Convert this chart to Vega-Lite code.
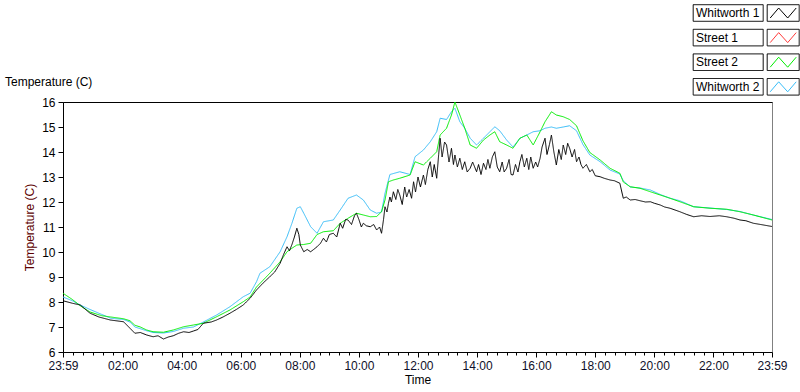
{
 "$schema": "https://vega.github.io/schema/vega-lite/v6.json",
 "width": 709,
 "height": 250,
 "autosize": "none",
 "padding": {"left": 63, "top": 102, "right": 28, "bottom": 40},
 "background": "white",
 "config": {"view": {"stroke": "#808080", "strokeWidth": 1}, "font": "Liberation Sans"},
 "title": {"text": "Temperature (C)", "anchor": "start", "frame": "group", "dx": -58, "dy": 86, "offset": 0, "fontSize": 12, "fontWeight": "normal", "color": "#000000", "font": "Liberation Sans"},
 "datasets": {
  "w1": [
{"t":-1,"v":8.05},{"t":18,"v":7.95},{"t":34,"v":7.88},{"t":54,"v":7.55},{"t":72,"v":7.4},{"t":95,"v":7.28},{"t":122,"v":7.21},{"t":135,"v":6.95},{"t":145,"v":6.75},{"t":156,"v":6.78},{"t":169,"v":6.68},{"t":182,"v":6.61},{"t":192,"v":6.65},{"t":203,"v":6.52},{"t":213,"v":6.6},{"t":223,"v":6.65},{"t":234,"v":6.75},{"t":244,"v":6.81},{"t":255,"v":6.78},{"t":264,"v":6.84},{"t":273,"v":6.9},{"t":284,"v":7.15},{"t":300,"v":7.2},{"t":311,"v":7.28},{"t":324,"v":7.4},{"t":338,"v":7.55},{"t":351,"v":7.7},{"t":365,"v":7.88},{"t":379,"v":8.15},{"t":392,"v":8.48},{"t":405,"v":8.75},{"t":419,"v":9.01},{"t":429,"v":9.2},{"t":440,"v":9.55},{"t":447,"v":9.9},{"t":454,"v":10.21},{"t":459,"v":10.05},{"t":464,"v":10.3},{"t":469,"v":10.6},{"t":474,"v":10.95},{"t":478,"v":10.7},{"t":481,"v":10.28},{"t":488,"v":10.01},{"t":495,"v":10.1},{"t":502,"v":10.01},{"t":508,"v":10.1},{"t":515,"v":10.21},{"t":522,"v":10.35},{"t":528,"v":10.55},{"t":534,"v":10.4},{"t":540,"v":10.7},{"t":548,"v":10.75},{"t":555,"v":10.6},{"t":562,"v":11.15},{"t":567,"v":10.95},{"t":573,"v":11.3},{"t":578,"v":11.28},{"t":585,"v":11.1},{"t":591,"v":11.45},{"t":595,"v":11.55},{"t":600,"v":11.3},{"t":605,"v":11.0},{"t":609,"v":11.15},{"t":615,"v":11.05},{"t":623,"v":11.01},{"t":630,"v":11.1},{"t":636,"v":10.88},{"t":642,"v":11.0},{"t":646,"v":10.75},{"t":650,"v":11.3},{"t":653,"v":11.81},{"t":657,"v":11.6},{"t":660,"v":11.95},{"t":663,"v":12.2},{"t":666,"v":12.0},{"t":670,"v":12.41},{"t":675,"v":12.1},{"t":679,"v":12.5},{"t":683,"v":12.28},{"t":688,"v":11.9},{"t":693,"v":12.6},{"t":697,"v":12.2},{"t":702,"v":12.5},{"t":707,"v":12.15},{"t":711,"v":12.81},{"t":715,"v":12.4},{"t":720,"v":13.0},{"t":725,"v":12.6},{"t":731,"v":13.08},{"t":735,"v":12.7},{"t":740,"v":13.3},{"t":745,"v":13.61},{"t":749,"v":13.0},{"t":753,"v":13.5},{"t":758,"v":12.95},{"t":762,"v":13.9},{"t":765,"v":14.55},{"t":769,"v":13.8},{"t":774,"v":14.4},{"t":778,"v":14.28},{"t":783,"v":13.6},{"t":788,"v":14.15},{"t":792,"v":13.5},{"t":795,"v":13.88},{"t":800,"v":13.4},{"t":805,"v":13.75},{"t":810,"v":13.3},{"t":815,"v":13.61},{"t":820,"v":13.2},{"t":826,"v":13.35},{"t":831,"v":13.6},{"t":839,"v":13.21},{"t":843,"v":13.5},{"t":848,"v":13.1},{"t":853,"v":13.55},{"t":858,"v":13.3},{"t":862,"v":13.7},{"t":866,"v":13.35},{"t":871,"v":13.8},{"t":876,"v":14.01},{"t":881,"v":13.4},{"t":886,"v":13.21},{"t":891,"v":13.6},{"t":895,"v":13.2},{"t":900,"v":13.35},{"t":905,"v":13.7},{"t":909,"v":13.1},{"t":913,"v":13.08},{"t":918,"v":13.5},{"t":923,"v":13.2},{"t":927,"v":13.61},{"t":931,"v":13.9},{"t":936,"v":13.4},{"t":941,"v":13.75},{"t":945,"v":13.3},{"t":949,"v":13.8},{"t":954,"v":13.35},{"t":959,"v":13.6},{"t":963,"v":13.4},{"t":968,"v":13.75},{"t":972,"v":14.2},{"t":978,"v":14.55},{"t":982,"v":13.9},{"t":987,"v":14.3},{"t":991,"v":14.68},{"t":996,"v":14.0},{"t":1001,"v":13.48},{"t":1006,"v":14.1},{"t":1011,"v":13.7},{"t":1015,"v":14.28},{"t":1020,"v":13.9},{"t":1024,"v":14.35},{"t":1028,"v":14.15},{"t":1033,"v":13.8},{"t":1038,"v":14.1},{"t":1042,"v":13.61},{"t":1047,"v":13.8},{"t":1051,"v":13.5},{"t":1055,"v":13.35},{"t":1062,"v":13.5},{"t":1069,"v":13.21},{"t":1074,"v":13.3},{"t":1080,"v":13.05},{"t":1090,"v":13.01},{"t":1098,"v":12.95},{"t":1110,"v":12.88},{"t":1119,"v":12.85},{"t":1130,"v":12.75},{"t":1134,"v":12.4},{"t":1137,"v":12.15},{"t":1143,"v":12.2},{"t":1151,"v":12.08},{"t":1161,"v":12.1},{"t":1171,"v":12.05},{"t":1182,"v":12.0},{"t":1192,"v":12.01},{"t":1200,"v":11.95},{"t":1212,"v":11.88},{"t":1221,"v":11.8},{"t":1232,"v":11.75},{"t":1242,"v":11.68},{"t":1252,"v":11.61},{"t":1266,"v":11.5},{"t":1280,"v":11.41},{"t":1296,"v":11.45},{"t":1313,"v":11.42},{"t":1332,"v":11.45},{"t":1347,"v":11.41},{"t":1362,"v":11.35},{"t":1374,"v":11.28},{"t":1386,"v":11.25},{"t":1401,"v":11.15},{"t":1416,"v":11.1},{"t":1439,"v":11.02}
  ],
  "s2": [
{"t":-1,"v":8.35},{"t":18,"v":8.1},{"t":34,"v":7.85},{"t":54,"v":7.6},{"t":78,"v":7.45},{"t":96,"v":7.4},{"t":122,"v":7.33},{"t":135,"v":7.25},{"t":145,"v":7.07},{"t":156,"v":7.0},{"t":169,"v":6.88},{"t":182,"v":6.81},{"t":203,"v":6.79},{"t":223,"v":6.88},{"t":244,"v":7.01},{"t":264,"v":7.08},{"t":284,"v":7.15},{"t":311,"v":7.41},{"t":338,"v":7.68},{"t":365,"v":8.01},{"t":379,"v":8.2},{"t":392,"v":8.6},{"t":419,"v":9.15},{"t":440,"v":9.61},{"t":454,"v":10.01},{"t":464,"v":10.15},{"t":474,"v":10.28},{"t":488,"v":10.3},{"t":502,"v":10.35},{"t":515,"v":10.7},{"t":528,"v":10.81},{"t":548,"v":10.85},{"t":562,"v":11.15},{"t":578,"v":11.35},{"t":595,"v":11.55},{"t":609,"v":11.48},{"t":623,"v":11.41},{"t":636,"v":11.42},{"t":646,"v":11.61},{"t":653,"v":12.08},{"t":660,"v":12.81},{"t":670,"v":12.88},{"t":683,"v":12.95},{"t":704,"v":13.08},{"t":714,"v":13.61},{"t":731,"v":13.48},{"t":745,"v":13.75},{"t":758,"v":14.01},{"t":765,"v":14.68},{"t":778,"v":14.95},{"t":788,"v":15.48},{"t":795,"v":16.0},{"t":805,"v":15.48},{"t":815,"v":14.95},{"t":826,"v":14.28},{"t":839,"v":14.15},{"t":853,"v":14.48},{"t":866,"v":14.68},{"t":876,"v":14.81},{"t":886,"v":14.41},{"t":900,"v":14.28},{"t":913,"v":14.15},{"t":927,"v":14.55},{"t":941,"v":14.68},{"t":954,"v":14.28},{"t":968,"v":14.81},{"t":978,"v":15.21},{"t":991,"v":15.61},{"t":1001,"v":15.48},{"t":1015,"v":15.41},{"t":1028,"v":15.3},{"t":1042,"v":15.05},{"t":1055,"v":14.45},{"t":1069,"v":13.98},{"t":1090,"v":13.68},{"t":1110,"v":13.35},{"t":1130,"v":13.15},{"t":1137,"v":12.8},{"t":1151,"v":12.61},{"t":1171,"v":12.55},{"t":1192,"v":12.41},{"t":1212,"v":12.28},{"t":1232,"v":12.15},{"t":1252,"v":12.01},{"t":1280,"v":11.81},{"t":1313,"v":11.75},{"t":1347,"v":11.71},{"t":1374,"v":11.61},{"t":1401,"v":11.48},{"t":1439,"v":11.28}
  ],
  "w2": [
{"t":-1,"v":8.2},{"t":18,"v":8.05},{"t":34,"v":7.88},{"t":54,"v":7.7},{"t":78,"v":7.5},{"t":96,"v":7.35},{"t":122,"v":7.3},{"t":135,"v":7.2},{"t":145,"v":7.0},{"t":169,"v":6.85},{"t":182,"v":6.78},{"t":203,"v":6.76},{"t":223,"v":6.82},{"t":244,"v":6.95},{"t":264,"v":7.0},{"t":284,"v":7.2},{"t":311,"v":7.48},{"t":338,"v":7.81},{"t":365,"v":8.21},{"t":379,"v":8.35},{"t":392,"v":8.81},{"t":399,"v":9.15},{"t":419,"v":9.41},{"t":440,"v":10.01},{"t":454,"v":10.61},{"t":464,"v":11.15},{"t":474,"v":11.75},{"t":481,"v":11.81},{"t":488,"v":11.55},{"t":502,"v":11.01},{"t":515,"v":10.75},{"t":528,"v":11.21},{"t":548,"v":11.28},{"t":562,"v":11.68},{"t":578,"v":12.15},{"t":595,"v":12.28},{"t":609,"v":12.08},{"t":623,"v":11.68},{"t":636,"v":11.55},{"t":646,"v":11.6},{"t":653,"v":12.35},{"t":663,"v":13.1},{"t":683,"v":13.21},{"t":704,"v":13.1},{"t":714,"v":13.81},{"t":731,"v":14.08},{"t":745,"v":14.41},{"t":758,"v":14.81},{"t":765,"v":15.35},{"t":778,"v":15.3},{"t":788,"v":15.61},{"t":795,"v":15.75},{"t":805,"v":15.21},{"t":815,"v":14.95},{"t":826,"v":14.55},{"t":839,"v":14.28},{"t":853,"v":14.55},{"t":866,"v":14.81},{"t":876,"v":15.01},{"t":886,"v":14.85},{"t":900,"v":14.48},{"t":913,"v":14.2},{"t":927,"v":14.55},{"t":941,"v":14.68},{"t":954,"v":14.81},{"t":968,"v":14.85},{"t":978,"v":14.95},{"t":991,"v":15.0},{"t":1001,"v":14.95},{"t":1015,"v":15.0},{"t":1028,"v":15.05},{"t":1042,"v":14.85},{"t":1055,"v":14.3},{"t":1069,"v":13.88},{"t":1090,"v":13.61},{"t":1110,"v":13.28},{"t":1130,"v":13.12},{"t":1137,"v":12.85},{"t":1151,"v":12.6},{"t":1171,"v":12.56},{"t":1192,"v":12.48},{"t":1212,"v":12.3},{"t":1232,"v":12.15},{"t":1252,"v":12.05},{"t":1280,"v":11.81},{"t":1313,"v":11.76},{"t":1347,"v":11.7},{"t":1374,"v":11.62},{"t":1401,"v":11.48},{"t":1439,"v":11.3}
  ]
 },
 "encoding": {
  "y": {"field": "v", "type": "quantitative", "scale": {"domain": [6, 16], "nice": false, "zero": false},
        "axis": {"values": [6,7,8,9,10,11,12,13,14,15,16], "labelOverlap": false, "title": "Temperature (C)", "titleColor": "#5c0000", "titleFontWeight": "normal", "titleFontSize": 12, "titlePadding": 5, "tickSize": 5, "labelFontSize": 12, "labelPadding": 3, "grid": false, "domainColor": "#000000", "tickColor": "#000000", "labelColor": "#000000"}}
 },
 "layer": [
  {
   "data": {"name": "w2"},
   "mark": {"type": "line", "strokeWidth": 1, "clip": true},
   "encoding": {
    "x": {"field": "t", "type": "quantitative", "scale": {"domain": [-1, 1439], "nice": false, "zero": false},
          "axis": {"orient": "top", "labels": false, "ticks": false, "title": null, "grid": false, "domainColor": "#000000"}},
    "color": {"datum": "Whitworth 2", "type": "nominal",
      "scale": {"domain": ["Whitworth 1", "Street 1", "Street 2", "Whitworth 2"], "range": ["#000000", "#ff3a3a", "#00ee00", "#38bdf8"]},
      "legend": {"orient": "none", "legendX": 709.7, "legendY": -99.5, "title": null, "padding": 0, "symbolType": "M-9,-0.83M1.6,0.83M-1.3,0.5L-0.45,-0.5L0.45,0.5L1.3,-0.5", "symbolSize": 400, "symbolStrokeWidth": 1, "symbolFillColor": "transparent", "labelFontSize": 12, "labelFont": "Liberation Sans", "labelColor": "#000000", "labelOffset": -97.7, "rowPadding": 3.6, "labelLimit": 200}},
    "strokeDash": {"datum": "W2", "type": "nominal",
      "scale": {"domain": ["W1", "S1", "S2", "W2"], "range": [[1, 0], [1, 0], [1, 0], [1, 0]]},
      "legend": {"orient": "none", "legendX": 709.7, "legendY": -99.5, "title": null, "padding": 0, "symbolType": "M-9,-0.83H-2V0.83H-9Z M-1.6,-0.83H1.6V0.83H-1.6Z", "symbolSize": 400, "symbolStrokeWidth": 1, "symbolStrokeColor": "#000000", "symbolFillColor": "transparent", "labelFontSize": 12, "labelExpr": "''", "labelOffset": -97.7, "rowPadding": 3.6,
        "encode": {"symbols": {"update": {"stroke": {"value": "#000000"}, "fill": {"value": "transparent"}}}}}}
   }
  },
  {
   "data": {"name": "s2"},
   "mark": {"type": "line", "strokeWidth": 1, "clip": true},
   "encoding": {
    "x": {"field": "t", "type": "quantitative", "scale": {"domain": [-1, 1439], "nice": false, "zero": false},
          "axis": {"values": [20,40,60,80,100,140,160,180,200,220,260,280,300,320,340,380,400,420,440,460,500,520,540,560,580,620,640,660,680,700,740,760,780,800,820,860,880,900,920,940,980,1000,1020,1040,1060,1100,1120,1140,1160,1180,1220,1240,1260,1280,1300,1340,1360,1380,1400,1420], "labels": false, "title": null, "domain": false, "tickSize": 3, "grid": false, "tickColor": "#000000"}},
    "color": {"datum": "Street 2", "type": "nominal",
      "scale": {"domain": ["Whitworth 1", "Street 1", "Street 2", "Whitworth 2"], "range": ["#000000", "#ff3a3a", "#00ee00", "#38bdf8"]}},
    "strokeDash": {"datum": "S2", "type": "nominal",
      "scale": {"domain": ["W1", "S1", "S2", "W2"], "range": [[1, 0], [1, 0], [1, 0], [1, 0]]}}
   }
  },
  {
   "data": {"name": "w1"},
   "mark": {"type": "line", "strokeWidth": 1, "clip": true},
   "encoding": {
    "x": {"field": "t", "type": "quantitative", "scale": {"domain": [-1, 1439], "nice": false, "zero": false},
          "axis": {"values": [-1,120,240,360,480,600,720,840,960,1080,1200,1320,1439], "labelExpr": "datum.value < 0 || datum.value > 1400 ? '23:59' : (datum.value < 600 ? '0' : '') + (datum.value / 60) + ':00'", "title": "Time", "titleFontWeight": "normal", "titleFontSize": 12, "titleColor": "#000000", "titlePadding": 3, "tickSize": 5, "labelFontSize": 12, "labelPadding": 3, "labelFlush": false, "labelOverlap": false, "labelColor": "#10102a", "grid": false, "domainColor": "#000000", "tickColor": "#000000"}},
    "color": {"datum": "Whitworth 1", "type": "nominal",
      "scale": {"domain": ["Whitworth 1", "Street 1", "Street 2", "Whitworth 2"], "range": ["#000000", "#ff3a3a", "#00ee00", "#38bdf8"]}},
    "strokeDash": {"datum": "W1", "type": "nominal",
      "scale": {"domain": ["W1", "S1", "S2", "W2"], "range": [[1, 0], [1, 0], [1, 0], [1, 0]]}}
   }
  }
 ],
 "resolve": {"axis": {"x": "independent"}}
}
